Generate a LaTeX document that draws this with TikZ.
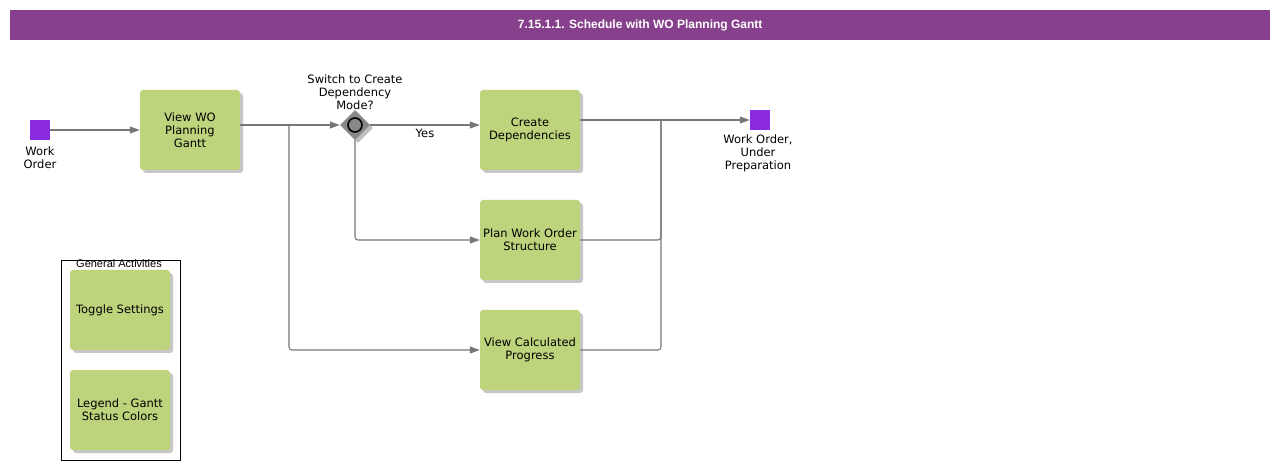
\documentclass[tikz,border=0pt]{standalone}
\usepackage{fontspec}
\setmainfont{DejaVu Sans}
\newfontfamily\arialfont{Liberation Sans}
\usetikzlibrary{arrows.meta,shadows,shapes.geometric}
\definecolor{titlebg}{HTML}{87408C}
\definecolor{taskfill}{HTML}{BDD37C}
\definecolor{evfill}{HTML}{8A2BE2}
\definecolor{linecol}{HTML}{777777}
\definecolor{gwfill}{HTML}{888888}
\tikzset{
  x=1pt, y=-1pt,
  task/.style={draw=none, fill=taskfill, rounded corners=3pt, minimum width=100pt, minimum height=80pt,
    inner sep=0pt, align=center, font=\fontsize{11.5}{13}\selectfont,
    drop shadow={shadow xshift=3pt, shadow yshift=-3pt, fill=black!22, opacity=1}},
  event/.style={draw=none, fill=evfill, minimum size=20pt, inner sep=0pt},
  gwshape/.style={diamond, fill=gwfill, minimum size=30pt, inner sep=0pt,
    drop shadow={shadow xshift=3pt, shadow yshift=-3pt, fill=black!25, opacity=1}},
  lbl/.style={align=center, font=\fontsize{11.5}{13}\selectfont, inner sep=0pt},
  flow/.style={draw=linecol, line width=1.1pt, -{Triangle[length=10pt,width=7pt]}},
  plain/.style={draw=linecol, line width=1.1pt}
}
\begin{document}
\begin{tikzpicture}
\useasboundingbox (0,0) rectangle (1280,470);
% title bar
\node[fill=titlebg, minimum width=1260pt, minimum height=30pt, inner sep=0pt, anchor=north west,
  text=white, font=\arialfont\bfseries\fontsize{12}{14}\selectfont] (title) at (10,10) {7.15.1.1. Schedule with WO Planning Gantt};

% start event
\node[event] (wo) at (40,130) {};
\node[lbl, anchor=north] (wolbl) at (40,147) {Work\\Order};

% tasks
\node[task] (view) at (190,130) {View WO\\Planning\\Gantt};
\node[task] (cd) at (530,130) {Create\\Dependencies};
\node[task] (plan) at (530,240) {Plan Work Order\\Structure};
\node[task] (calc) at (530,350) {View Calculated\\Progress};

% gateway
\node[gwshape] (gw) at (355,125) {};
\draw[black, line width=1.6pt, fill=gwfill] (gw.center) circle (7pt);
\node[lbl, anchor=south] (gwlbl) at (355,110) {Switch to Create\\Dependency\\Mode?};

% end event
\node[event] (end) at (760,120) {};
\node[lbl, anchor=north] (endlbl) at (758,135) {Work Order,\\Under\\Preparation};

% general activities
\node[draw=black, line width=0.8pt, minimum width=119pt, minimum height=200pt, inner sep=0pt, anchor=north west] (ga) at (61,260) {};
\node[font=\arialfont\fontsize{11}{13}\selectfont, inner sep=0pt, anchor=north] (galbl) at (119,259) {General Activities};
\node[task] (toggle) at (120,310) {Toggle Settings};
\node[task] (legend) at (120,410) {Legend - Gantt\\Status Colors};

% coordinates
\coordinate (br1) at (289,125);
\coordinate (mg) at (661,120);

% connectors
\draw[flow] (wo.east) -- (view.west);
\draw[flow] ([yshift=5pt]view.east) -- (gw.west);
\draw[flow, rounded corners=3pt] (br1) |- (calc.west);
\draw[flow] (gw.east) -- (gw.east -| cd.west) node[lbl, pos=0.5, below=4pt] (yes) {Yes};
\draw[flow, rounded corners=3pt] (gw.south) |- (plan.west);
\draw[flow] ([yshift=10pt]cd.east) -- (end.west);
\draw[plain, rounded corners=3pt] (plan.east) -| (mg);
\draw[plain, rounded corners=3pt] (calc.east) -| (mg);
\end{tikzpicture}
\end{document}
